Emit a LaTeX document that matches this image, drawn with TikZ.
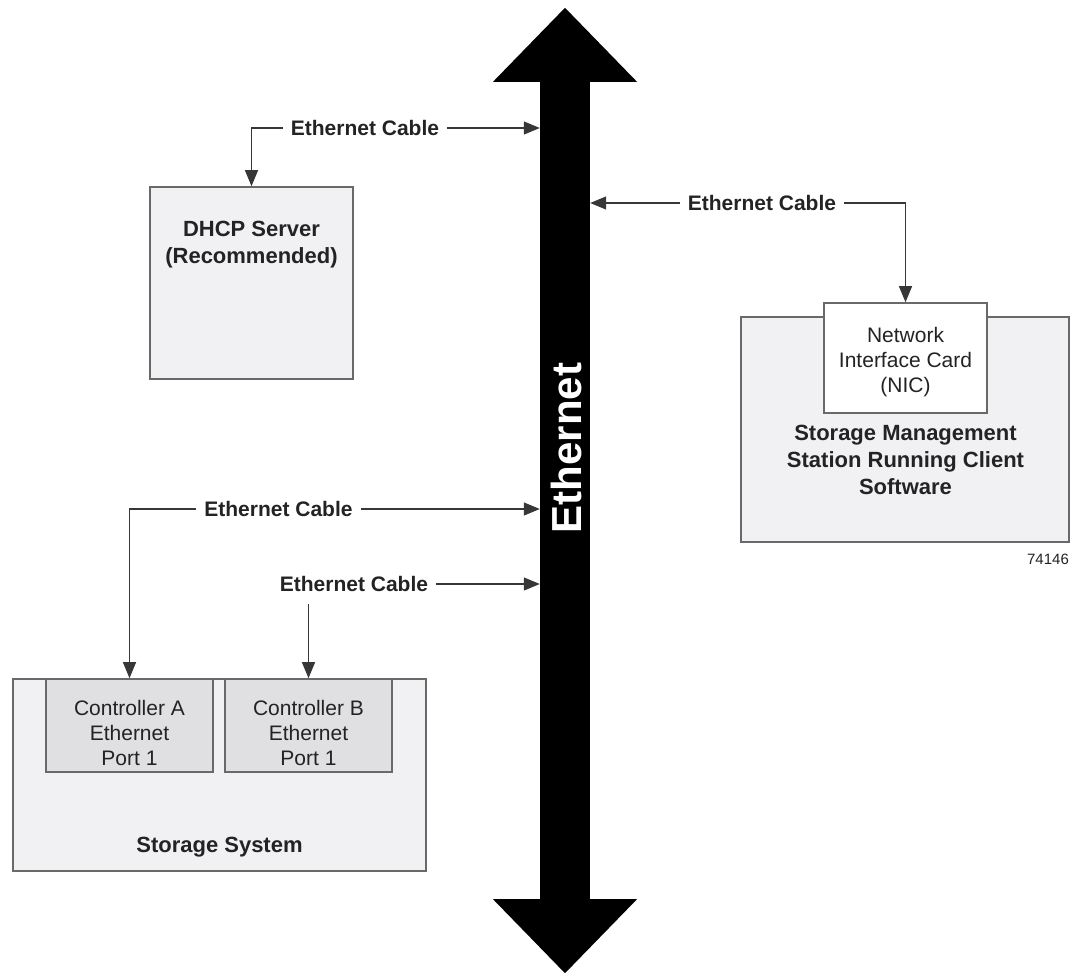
\documentclass[tikz,border=0pt]{standalone}
\usepackage{fontspec}
\setmainfont{Liberation Sans}
\usetikzlibrary{arrows.meta,positioning,calc}
\definecolor{boxgray}{RGB}{241,241,244}
\definecolor{portgray}{RGB}{224,224,227}
\definecolor{edgegray}{RGB}{105,105,105}
\definecolor{linegray}{RGB}{55,55,55}
\definecolor{textgray}{RGB}{35,35,35}
\tikzset{
  % outer equipment box
  unitbox/.style={rectangle, draw=edgegray, fill=boxgray, line width=1.6pt, inner sep=0pt},
  % port / card box sitting on a unit
  portbox/.style={rectangle, draw=edgegray, fill=#1, line width=1.6pt, inner sep=0pt},
  portbox/.default={portgray},
  % text inside a port box
  porttext/.style={align=center, inner sep=0pt, text=textgray, font=\fontsize{21}{25}\selectfont},
  % bold caption inside a box
  unitlabel/.style={align=center, inner sep=0pt, text=textgray, font=\bfseries\fontsize{22}{27}\selectfont},
  % cable label
  cablelabel/.style={inner xsep=8pt, inner ysep=2pt, text=textgray, font=\bfseries\fontsize{21}{25}\selectfont},
  % cable line
  cable/.style={-{Triangle[length=16pt,width=13pt]}, line width=1.2pt, draw=linegray},
  % ethernet backbone shaft
  busbar/.style={rectangle, fill=black, draw=none, inner sep=0pt, minimum width=50pt, minimum height=817pt},
}

\begin{document}
\begin{tikzpicture}[x=1pt, y=-1pt]
  \useasboundingbox (0,0) rectangle (1079,975);

  % ── Ethernet backbone ──
  \node[busbar] (bus) at (565,490.5) {};
  \fill ($(bus.north)+(-72,0)$) -- ($(bus.north)+(0,-74)$) -- ($(bus.north)+(72,0)$) -- cycle;
  \fill ($(bus.south)+(-72,0)$) -- ($(bus.south)+(0,74)$) -- ($(bus.south)+(72,0)$) -- cycle;
  \node[rotate=90, text=white, inner sep=0pt, font=\bfseries\fontsize{42}{42}\selectfont] (ethlabel) at (566,448) {Ethernet};

  % ── DHCP server ──
  \node[unitbox, minimum width=203pt, minimum height=192pt] (dhcp) at (251.5,283) {};
  \node[unitlabel, below=35pt of dhcp.north] (dhcptxt) {DHCP Server\\(Recommended)};

  % ── Management station ──
  \node[unitbox, minimum width=328pt, minimum height=225pt] (sms) at (905,429.5) {};
  \node[portbox=white, minimum width=163pt, minimum height=110pt] (nic) at (905.5,358) {};
  \node[porttext] (nictxt) at ($(nic.center)+(0,4)$) {Network\\Interface Card\\(NIC)};
  \node[unitlabel, below=11pt of nic.south] (smstxt) {Storage Management\\Station Running Client\\Software};
  \node[inner sep=0pt, text=textgray, font=\fontsize{15}{15}\selectfont] (fignum) at (1048,559) {74146};

  % ── Storage system ──
  \node[unitbox, minimum width=413pt, minimum height=192pt] (storage) at (219.5,775) {};
  \node[portbox, minimum width=167pt, minimum height=93pt] (ctrlA) at (129.5,725.5) {};
  \node[portbox, minimum width=167pt, minimum height=93pt] (ctrlB) at (308.5,725.5) {};
  \node[porttext] (ctrlAtxt) at ($(ctrlA.center)+(0,7)$) {Controller A\\Ethernet\\Port 1};
  \node[porttext] (ctrlBtxt) at ($(ctrlB.center)+(0,7)$) {Controller B\\Ethernet\\Port 1};
  \node[unitlabel] (storagetxt) at (219.5,847) {Storage System};

  % ── Cables ──
  \node[cablelabel] (cabDHCP) at (365,128) {Ethernet Cable};
  \node[cablelabel] (cabNIC) at (762,203) {Ethernet Cable};
  \node[cablelabel] (cabA) at (278.5,509) {Ethernet Cable};
  \node[cablelabel] (cabB) at (354,584) {Ethernet Cable};

  \draw[cable] (cabDHCP.west) -| (dhcp.north);
  \draw[cable] (cabDHCP.east) -- (cabDHCP.east -| bus.west);
  \draw[cable] (cabNIC.west) -- (cabNIC.west -| bus.east);
  \draw[cable] (cabNIC.east) -| (nic.north);
  \draw[cable] (cabA.west) -| (ctrlA.north);
  \draw[cable] (cabA.east) -- (cabA.east -| bus.west);
  \draw[cable] (cabB.east) -- (cabB.east -| bus.west);
  \draw[cable] ($(cabB.south -| ctrlB.north)+(0,10)$) -- (ctrlB.north);

\end{tikzpicture}
\end{document}
